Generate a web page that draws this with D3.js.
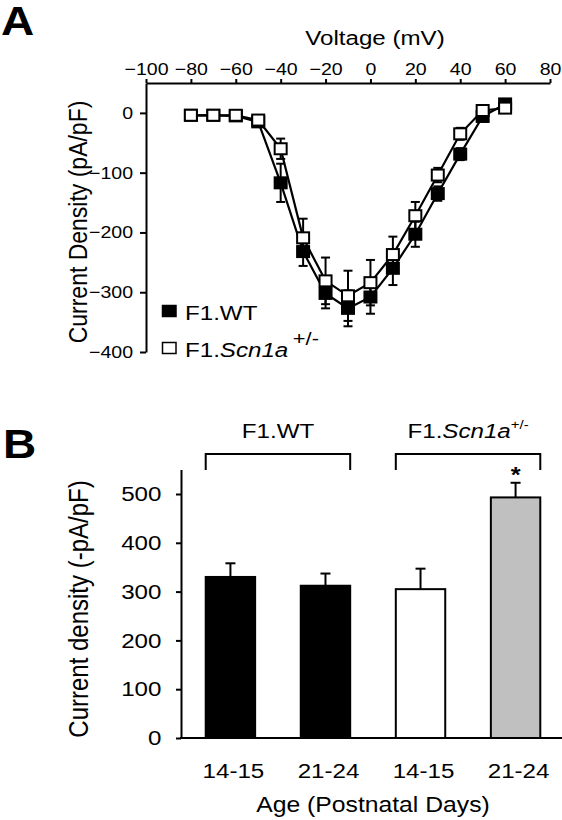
<!DOCTYPE html>
<html><head><meta charset="utf-8">
<script src="https://cdn.jsdelivr.net/npm/d3@7"></script>
<style>
body{margin:0;background:#fff}
svg{display:block}
text{font-family:"Liberation Sans",Arial,Helvetica,sans-serif;fill:#000}
</style>
</head><body>
<svg id="c" width="562" height="820"></svg>
<script>
// ---------- Panel A data ----------
const voltages   = [-80,-70,-60,-50,-40,-30,-20,-10,0,10,20,30,40,50,60];
const wtCurrent  = [-4,-4,-5,-15,-117,-232,-302,-327,-308,-260,-203,-135,-69,-6,15];
const wtError    = [2,2,2,5,32,24,25,30,28,28,21,12,10,6,5];
const hetCurrent = [-4,-4,-4,-12,-60,-209,-281,-306,-284,-237,-172,-104,-35,4,8];
const hetError   = [2,2,2,5,17,32,39,42,38,30,23,12,10,5,5];
const xTicksA = [-100,-80,-60,-40,-20,0,20,40,60,80];
const yTicksA = [0,-100,-200,-300,-400];

// ---------- Panel B data ----------
const ageGroups  = ["14-15","21-24","14-15","21-24"];
const barValues  = [330,312,305,493];
const barErrors  = [28,25,42,30];
const barFills   = ["#000000","#000000","#ffffff","#c0c0c0"];
const yTicksB    = [0,100,200,300,400,500];

const K = 1.15; // horizontal text stretch seen in the reference
const svg = d3.select("#c");

function txt(x, y, size, anchor, rot){
  return svg.append("text")
    .attr("transform", `translate(${x},${y}) scale(${K},1)` + (rot ? " rotate(-90)" : ""))
    .attr("font-size", size).attr("text-anchor", anchor || "start");
}

// ================= Panel A =================
const xA = d3.scaleLinear().domain([-100,80]).range([146,550]);
const yA = d3.scaleLinear().domain([50,-400]).range([83,352]);

txt(1,35,40).attr("font-weight","bold").text("A");

const axT = svg.append("g").attr("transform","translate(0,83)")
  .call(d3.axisTop(xA).tickValues(xTicksA).tickSize(4).tickSizeOuter(0).tickPadding(4));
const axL = svg.append("g").attr("transform","translate(146,0)")
  .call(d3.axisLeft(yA).tickValues(yTicksA).tickSize(6).tickSizeOuter(0).tickPadding(5.3));
[axT,axL].forEach(g=>{
  g.selectAll("path,line").attr("stroke","#000").attr("stroke-width",2);
  g.selectAll("text").attr("font-size",17).attr("font-family",null).attr("transform",`scale(${K},1)`);
});

txt(375,45,21,"middle").text("Voltage (mV)");
txt(87,222,23,"middle",true).text("Current Density (pA/pF)");

function drawSeries(vals, errs, fill){
  const pts = voltages.map((v,i)=>({v, c:vals[i], e:errs[i]}));
  svg.append("path").datum(pts)
    .attr("d", d3.line().x(d=>xA(d.v)).y(d=>yA(d.c)))
    .attr("fill","none").attr("stroke","#000").attr("stroke-width",2.2);
  const eb = svg.append("g").attr("stroke","#000").attr("stroke-width",2);
  pts.forEach(d=>{
    const x=xA(d.v), y1=yA(d.c+d.e), y2=yA(d.c-d.e);
    eb.append("line").attr("x1",x).attr("x2",x).attr("y1",y1).attr("y2",y2);
    eb.append("line").attr("x1",x-4.5).attr("x2",x+4.5).attr("y1",y1).attr("y2",y1);
    eb.append("line").attr("x1",x-4.5).attr("x2",x+4.5).attr("y1",y2).attr("y2",y2);
  });
  svg.append("g").selectAll("rect").data(pts).join("rect")
    .attr("x",d=>xA(d.v)-6).attr("y",d=>yA(d.c)-5.5)
    .attr("width",12).attr("height",11)
    .attr("fill",fill).attr("stroke","#000").attr("stroke-width",2);
}
drawSeries(wtCurrent, wtError, "#000");
drawSeries(hetCurrent, hetError, "#fff");

// legend
svg.append("rect").attr("x",162.5).attr("y",305.5).attr("width",13.5).attr("height",11).attr("fill","#000").attr("stroke","#000").attr("stroke-width",1.5);
txt(185,320,21).text("F1.WT");
svg.append("rect").attr("x",162.5).attr("y",342.5).attr("width",13.5).attr("height",11).attr("fill","#fff").attr("stroke","#000").attr("stroke-width",1.5);
const lg = txt(185,357,21);
lg.append("tspan").text("F1.");
lg.append("tspan").attr("font-style","italic").text("Scn1a");
lg.append("tspan").attr("dx",4).attr("dy",-12).attr("font-size",19).text("+/-");

// ================= Panel B =================
const xB = d3.scaleBand().domain(d3.range(ageGroups.length)).range([181,565]).paddingInner(0.48).paddingOuter(0.26);
const yB = d3.scaleLinear().domain([0,550]).range([738,469.6]);

txt(3,458,40).attr("font-weight","bold").text("B");

const axB = svg.append("g").attr("transform","translate(181,0)")
  .call(d3.axisLeft(yB).tickValues(yTicksB).tickSize(5).tickSizeOuter(0).tickPadding(12));
axB.selectAll("path,line").attr("stroke","#000").attr("stroke-width",2);
axB.selectAll("text").attr("font-size",21).attr("font-family",null).attr("transform",`scale(${K},1)`);

// bars
const bars = ageGroups.map((g,i)=>({i, g, v:barValues[i], e:barErrors[i], f:barFills[i]}));
const eg = svg.append("g").attr("stroke","#000").attr("stroke-width",2);
bars.forEach(d=>{
  const cx = xB(d.i)+xB.bandwidth()/2, yt=yB(d.v+d.e);
  eg.append("line").attr("x1",cx).attr("x2",cx).attr("y1",yB(d.v)).attr("y2",yt);
  eg.append("line").attr("x1",cx-5).attr("x2",cx+5).attr("y1",yt).attr("y2",yt);
});
svg.append("g").selectAll("rect").data(bars).join("rect")
  .attr("x",d=>xB(d.i)).attr("y",d=>yB(d.v))
  .attr("width",xB.bandwidth()).attr("height",d=>yB(0)-yB(d.v))
  .attr("fill",d=>d.f).attr("stroke","#000").attr("stroke-width",2);

// x axis line
svg.append("line").attr("x1",180).attr("x2",562).attr("y1",yB(0)).attr("y2",yB(0)).attr("stroke","#000").attr("stroke-width",2);
bars.forEach(d=>{
  txt(xB(d.i)+xB.bandwidth()/2+3, 778, 21, "middle").text(d.g);
});

txt(373,812,21.5,"middle").text("Age (Postnatal Days)");
txt(88,609,24,"middle",true).text("Current density (-pA/pF)");

// brackets
function bracket(i0,i1){
  const x0=xB(i0), x1=xB(i1)+xB.bandwidth();
  svg.append("path").attr("d",`M${x0},470V454H${x1}V470`).attr("fill","none").attr("stroke","#000").attr("stroke-width",2);
  return (x0+x1)/2;
}
const c1 = bracket(0,1), c2 = bracket(2,3);
txt(c1,438,21,"middle").text("F1.WT");
const t2 = txt(c2,438,21,"middle");
t2.append("tspan").text("F1.");
t2.append("tspan").attr("font-style","italic").text("Scn1a");
t2.append("tspan").attr("dy",-9).attr("font-size",13).text("+/-");

txt(xB(3)+xB.bandwidth()/2,482,22,"middle").attr("font-weight","bold").text("*");
</script>
</body></html>
